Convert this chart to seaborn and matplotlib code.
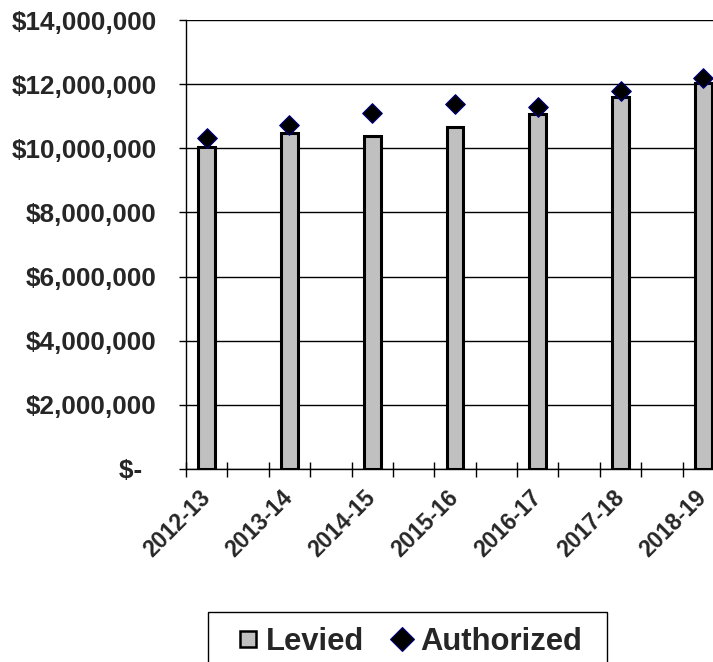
import matplotlib
matplotlib.use("Agg")
import matplotlib.pyplot as plt
from matplotlib.lines import Line2D
from matplotlib.patches import Rectangle
import numpy as np
import pandas as pd
import seaborn as sns

# Fiscal years and dollar amounts
years = ["2012-13", "2013-14", "2014-15", "2015-16", "2016-17", "2017-18", "2018-19"]
levied = [10050000, 10470000, 10370000, 10670000, 11080000, 11610000, 12030000]
authorized = [10320000, 10730000, 11090000, 11390000, 11290000, 11790000, 12180000]
y_ticks = [0, 2000000, 4000000, 6000000, 8000000, 10000000, 12000000, 14000000]
y_tick_labels = ["$-  ", "$2,000,000", "$4,000,000", "$6,000,000", "$8,000,000",
                 "$10,000,000", "$12,000,000", "$14,000,000"]

df = pd.DataFrame({"year": years, "Levied": levied, "Authorized": authorized})

sns.set_theme(style="white")
plt.rcParams["font.family"] = ["Liberation Sans", "DejaVu Sans"]
plt.rcParams["font.weight"] = "bold"

BAR_GREY = "#C0C0C0"
NAVY = "#000080"

W, H = 713, 662
fig = plt.figure(figsize=(W / 100, H / 100), dpi=100)
left, right = 186 / W, 724 / W
bottom, top = (H - 469) / H, (H - 20) / H
ax = fig.add_axes([left, bottom, right - left, top - bottom])

sns.barplot(data=df, x="year", y="Levied", ax=ax, color=BAR_GREY,
            width=0.2, edgecolor="black", linewidth=2.2, saturation=1,
            legend=False, zorder=3)
sns.scatterplot(data=df, x="year", y="Authorized", ax=ax, marker="D",
                s=100, color="black", edgecolor=NAVY, linewidth=0.8,
                legend=False, zorder=4)

ax.set_xlim(-0.25, 6.25)
ax.set_ylim(0, 14000000)
ax.set_xlabel("")
ax.set_ylabel("")

# horizontal gridlines
ax.set_yticks(y_ticks)
ax.set_yticklabels(y_tick_labels, fontsize=18.8, fontweight="bold")
ax.yaxis.grid(True, color="black", linewidth=1.0, zorder=0)
ax.set_axisbelow(True)
ax.tick_params(axis="y", direction="out", length=5, width=1.0, color="black",
               pad=16, left=True)

# category labels at bar centres, tick marks between categories
ax.set_xticks(range(len(years)))
ax.set_xticklabels(years, rotation=45, ha="right", va="center",
                   rotation_mode="anchor", fontsize=16.5, fontweight="bold")
ax.tick_params(axis="x", which="major", length=0, pad=18)
ax.set_xticks(np.arange(-0.25, 6.3, 0.5), minor=True)
ax.tick_params(axis="x", which="minor", direction="inout", length=10.8,
               width=1.0, color="black", bottom=True)

for side in ["top", "right"]:
    ax.spines[side].set_visible(False)
for side in ["left", "bottom"]:
    ax.spines[side].set_color("black")
    ax.spines[side].set_linewidth(1.0)

# legend below the plot, inside a plain box
handles = [
    Line2D([], [], linestyle="none", marker="s", markersize=12,
           markerfacecolor=BAR_GREY, markeredgecolor="black", markeredgewidth=1.8),
    Line2D([], [], linestyle="none", marker="D", markersize=12,
           markerfacecolor="black", markeredgecolor=NAVY, markeredgewidth=0.8),
]
fig.legend(handles, ["Levied", "Authorized"], loc="upper left",
           bbox_to_anchor=(238 / W, (H - 627) / H), ncol=2, frameon=False,
           prop={"size": 22.3, "weight": "bold"}, handlelength=0.65,
           handletextpad=0.25, columnspacing=0.9, borderpad=0,
           borderaxespad=0)
fig.patches.append(Rectangle((208 / W, -0.05), (607 - 208) / W,
                             (H - 612) / H + 0.05, transform=fig.transFigure,
                             fill=False, edgecolor="black", linewidth=1.0))

fig.savefig("out.png", dpi=100)
